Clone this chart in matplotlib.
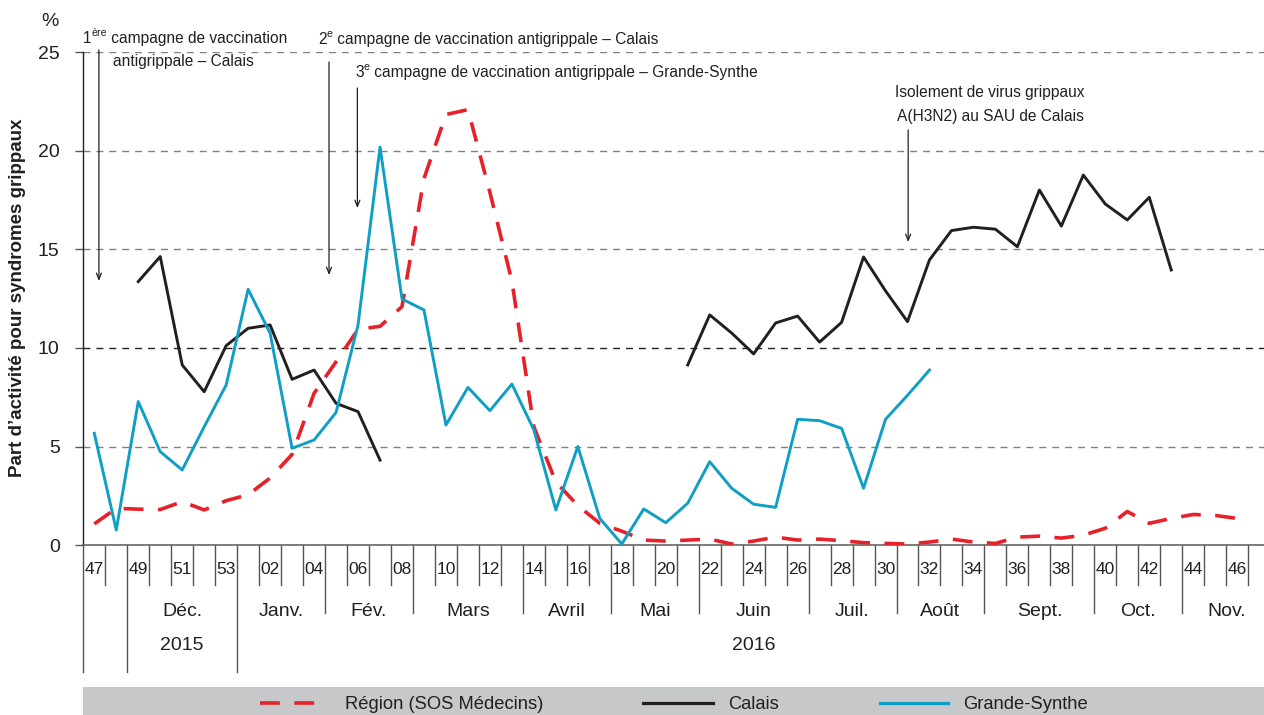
import numpy as np
import matplotlib
matplotlib.use('Agg')
import matplotlib.pyplot as plt
from matplotlib.patches import Rectangle
from matplotlib.lines import Line2D

plt.rcParams['font.family'] = ['Liberation Sans Narrow', 'Liberation Sans', 'DejaVu Sans']

nan = np.nan

# weeks 47/2015 -> 46/2016
weeks = ['47', '48', '49', '50', '51', '52', '53'] + ['%02d' % w for w in range(1, 47)]

# share of activity for flu syndromes (%)
region = [1.07, 1.86, 1.82, 1.8, 2.2, 1.78, 2.25, 2.55, 3.4, 4.6,
          7.7, 9.3, 10.95, 11.1, 12.1, 18.6, 21.85, 22.1, 17.9, 13.4,
          6.0, 3.2, 2.0, 1.1, 0.7, 0.25, 0.2, 0.25, 0.3, 0.05,
          0.2, 0.4, 0.25, 0.3, 0.22, 0.12, 0.08, 0.05, 0.15, 0.3,
          0.15, 0.08, 0.4, 0.45, 0.35, 0.5, 0.85, 1.7, 1.1, 1.35,
          1.55, 1.5, 1.35]
calais = [nan, nan, 13.37, 14.64, 9.14, 7.78, 10.12, 11.0, 11.17, 8.41,
          8.88, 7.19, 6.77, 4.31, nan, nan, nan, nan, nan, nan,
          nan, nan, nan, nan, nan, nan, nan, 9.14, 11.68, 10.76,
          9.7, 11.27, 11.62, 10.3, 11.3, 14.62, 12.9, 11.34, 14.47, 15.96,
          16.13, 16.03, 15.14, 18.02, 16.19, 18.78, 17.31, 16.5, 17.65, 13.96]
grande_synthe = [5.67, 0.76, 7.28, 4.74, 3.81, 6.0, 8.12, 12.98, 10.75, 4.91,
                 5.33, 6.73, 11.17, 20.2, 12.49, 11.93, 6.09, 8.0, 6.82, 8.17,
                 5.84, 1.78, 5.0, 1.35, 0.05, 1.83, 1.13, 2.12, 4.23, 2.88,
                 2.07, 1.91, 6.38, 6.31, 5.92, 2.88, 6.38, 7.6, 8.88]

# months: label and first week-cell index (boundaries)
months = ['Déc.', 'Janv.', 'Fév.', 'Mars', 'Avril', 'Mai', 'Juin', 'Juil.', 'Août', 'Sept.', 'Oct.', 'Nov.']
month_bounds = [2, 7, 11, 15, 20, 24, 28, 33, 37, 41, 46, 50, 54]
years = ['2015', '2016']
year_bounds = [2, 7, 54]

RED = '#e62129'
BLACK = '#231f20'
CYAN = '#0f9fc4'
TXT = '#231f20'

W, H = 1264, 715
fig = plt.figure(figsize=(W / 100, H / 100), dpi=100)

x0, y_base, y_top = 83.3, 545, 52.5
ax = fig.add_axes([x0 / W, 1 - y_base / H, 1 - x0 / W, (y_base - y_top) / H])
ax.set_xlim(-0.5, 53.22)
ax.set_ylim(0, 25)

def yf(p):
    # pixel row -> axes fraction (for the category rows under the axis)
    return (y_base - p) / (y_base - y_top)

for yv in [5, 10, 15, 20, 25]:
    ax.axhline(yv, color='#222222' if yv == 10 else '#808080', lw=1.0,
               linestyle=(0, (5, 4.3)), zorder=1)

xs = np.arange(len(weeks))
ax.plot(xs[:len(region)], region, color=RED, lw=2.6, dashes=(5.5, 4), zorder=3)
ax.plot(xs[:len(calais)], calais, color=BLACK, lw=2.1, zorder=4)
ax.plot(xs[:len(grande_synthe)], grande_synthe, color=CYAN, lw=2.1, zorder=5)

for s in ['top', 'right']:
    ax.spines[s].set_visible(False)
ax.spines['left'].set_color(BLACK)
ax.spines['left'].set_linewidth(1.0)
ax.spines['bottom'].set_color('#666666')
ax.spines['bottom'].set_linewidth(1.2)

ax.set_xticks([])
ax.set_yticks([0, 5, 10, 15, 20, 25])
ax.tick_params(axis='y', length=6, width=1, color='#555555', labelsize=14,
               pad=11, labelcolor=TXT)

# category rows under the axis
tr = ax.get_xaxis_transform()
for b in range(len(weeks) + 1):
    if b in (0, 2, 7):
        bottom = yf(672)
    elif b in month_bounds:
        bottom = yf(613)
    else:
        bottom = yf(585)
    ax.plot([b - 0.5, b - 0.5], [0, bottom], color='#555555', lw=1.0,
            transform=tr, clip_on=False)
for i, w in enumerate(weeks):
    if i % 2 == 0:
        ax.text(i, yf(569), w, ha='center', va='center', fontsize=12.5,
                color=TXT, transform=tr)
for m, a, b in zip(months, month_bounds[:-1], month_bounds[1:]):
    ax.text((a + b) / 2 - 0.5, yf(612), m, ha='center', va='center',
            fontsize=14, color=TXT, transform=tr, clip_on=False)
for yl, a, b in zip(years, year_bounds[:-1], year_bounds[1:]):
    ax.text((a + b) / 2 - 0.5, yf(646), yl, ha='center', va='center',
            fontsize=14, color=TXT, transform=tr, clip_on=False)

# arrows of the annotations
arrows = [(0.21, 25.13, 13.4), (10.68, 24.52, 13.7), (11.97, 23.2, 17.1), (37.03, 21.07, 15.38)]
for xa, ya, yb in arrows:
    ax.annotate('', xy=(xa, yb), xytext=(xa, ya),
                arrowprops=dict(arrowstyle='->,head_length=0.45,head_width=0.18',
                                color=BLACK, lw=0.9, shrinkA=0, shrinkB=0),
                annotation_clip=False)

# overlay in pixel coordinates for texts and legend
ov = fig.add_axes([0, 0, 1, 1])
ov.set_xlim(0, W)
ov.set_ylim(H, 0)
ov.axis('off')

fig.canvas.draw()
renderer = fig.canvas.get_renderer()

def rich(x, y, parts, fs=11.2):
    for txt, sup in parts:
        t = ov.text(x, y - (7 if sup else 0), txt, fontsize=fs * 0.68 if sup else fs,
                    ha='left', va='baseline', color=TXT)
        x += t.get_window_extent(renderer).width

rich(83, 43.3, [('1', False), ('ère', True), (' campagne de vaccination', False)])
rich(113, 66, [('antigrippale – Calais', False)])
rich(318, 44, [('2', False), ('e', True), (' campagne de vaccination antigrippale – Calais', False)])
rich(355, 77.3, [('3', False), ('e', True), (' campagne de vaccination antigrippale – Grande-Synthe', False)])
ov.text(990, 97, 'Isolement de virus grippaux', ha='center', va='baseline', fontsize=11.2, color=TXT)
ov.text(990, 121, 'A(H3N2) au SAU de Calais', ha='center', va='baseline', fontsize=11.2, color=TXT)

ov.text(59, 22, '%', ha='right', va='center', fontsize=14, color=TXT)
ov.text(18, 298, 'Part d\u2019activité pour syndromes grippaux', rotation=90, ha='center',
        va='center', fontsize=13.5, fontweight='bold', color=TXT)

# legend bar
ov.add_patch(Rectangle((83, 686.7), W - 83, H - 686.7, facecolor='#c7c8ca', edgecolor='none'))
ov.add_line(Line2D([260, 317], [702.7, 702.7], color=RED, lw=2.6, dashes=(5.5, 4)))
ov.add_line(Line2D([643, 713], [702.7, 702.7], color=BLACK, lw=2.3))
ov.add_line(Line2D([880, 948], [702.7, 702.7], color=CYAN, lw=2.3))
ov.text(345, 709, 'Région (SOS Médecins)', ha='left', va='baseline', fontsize=13.2, color=TXT)
ov.text(728, 709, 'Calais', ha='left', va='baseline', fontsize=13.2, color=TXT)
ov.text(963, 709, 'Grande-Synthe', ha='left', va='baseline', fontsize=13.2, color=TXT)

fig.savefig('out.png', dpi=100)
